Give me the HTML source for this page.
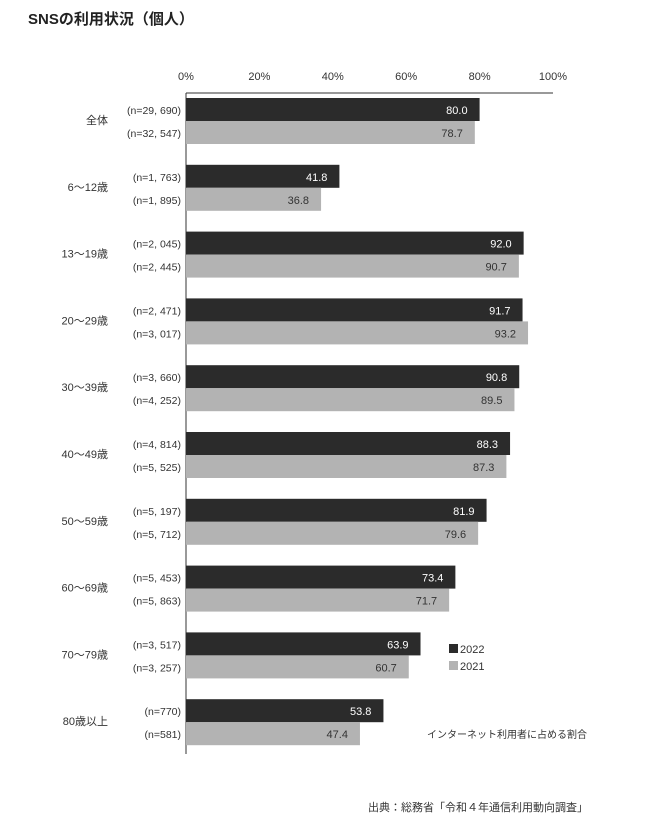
<!DOCTYPE html>
<html><head><meta charset="utf-8"><style>
body{margin:0;background:#fff;width:660px;height:824px;overflow:hidden;font-family:"Liberation Sans","Noto Sans CJK JP",sans-serif;}
svg text{font-family:"Liberation Sans","Noto Sans CJK JP",sans-serif;}
</style></head><body>
<svg id="c" width="660" height="824">
<text x="28" y="24" font-size="15" font-weight="bold" fill="#222">SNSの利用状況（個人）</text>
<g id="g"></g>
<g>
<rect x="449" y="644" width="9" height="9" fill="#2b2b2b"/>
<text x="460" y="653" font-size="11" fill="#333">2022</text>
<rect x="449" y="661" width="9" height="9" fill="#b3b3b3"/>
<text x="460" y="670" font-size="11" fill="#333">2021</text>
</g>
<text x="587" y="738" font-size="10" fill="#333" text-anchor="end">インターネット利用者に占める割合</text>
<text x="588" y="811" font-size="11" fill="#333" text-anchor="end">出典：総務省「令和４年通信利用動向調査」</text>
</svg>
<script>
const categories=["全体","6～12歳","13～19歳","20～29歳","30～39歳","40～49歳","50～59歳","60～69歳","70～79歳","80歳以上"];
const values2022=[80.0,41.8,92.0,91.7,90.8,88.3,81.9,73.4,63.9,53.8];
const values2021=[78.7,36.8,90.7,93.2,89.5,87.3,79.6,71.7,60.7,47.4];
const n2022=["(n=29, 690)","(n=1, 763)","(n=2, 045)","(n=2, 471)","(n=3, 660)","(n=4, 814)","(n=5, 197)","(n=5, 453)","(n=3, 517)","(n=770)"];
const n2021=["(n=32, 547)","(n=1, 895)","(n=2, 445)","(n=3, 017)","(n=4, 252)","(n=5, 525)","(n=5, 712)","(n=5, 863)","(n=3, 257)","(n=581)"];
const ticks=[0,20,40,60,80,100];
const NS="http://www.w3.org/2000/svg";
const g=document.getElementById('g');
const x0=186,x1=553;
const xs=v=>x0+(x1-x0)*v/100;
const gy=i=>98+i*66.8;
function mk(t,a,p){const e=document.createElementNS(NS,t);for(const k in a)e.setAttribute(k,a[k]);(p||g).appendChild(e);return e;}
ticks.forEach(t=>{
const e=mk('text',{x:xs(t),y:80,'font-size':11,fill:'#333','text-anchor':'middle'});e.textContent=t+'%';


});
const ax=mk('line',{x1:x0,y1:93,x2:x1,y2:93,stroke:'#333','stroke-width':1});


const ay=mk('line',{x1:x0,y1:93,x2:x0,y2:754,stroke:'#333','stroke-width':1});


categories.forEach((c,i)=>{
const y=gy(i);
const lab=mk('text',{x:108,y:y+26,'font-size':11,fill:'#333','text-anchor':'end'});lab.textContent=c;


[[values2022,n2022,'#2b2b2b','#fff',0,'2022'],[values2021,n2021,'#b3b3b3','#333',23,'2021']].forEach(s=>{
const v=s[0][i],by=y+s[4];
const r=mk('rect',{x:x0,y:by,width:xs(v)-x0,height:23,fill:s[2]});


const t=mk('text',{x:xs(v)-12,y:by+16,'font-size':11,fill:s[3],'text-anchor':'end'});t.textContent=v.toFixed(1);


const nt=mk('text',{x:181,y:by+16,'font-size':10.5,fill:'#333','text-anchor':'end'});nt.textContent=s[1][i];


});
});
</script>
</body></html>
